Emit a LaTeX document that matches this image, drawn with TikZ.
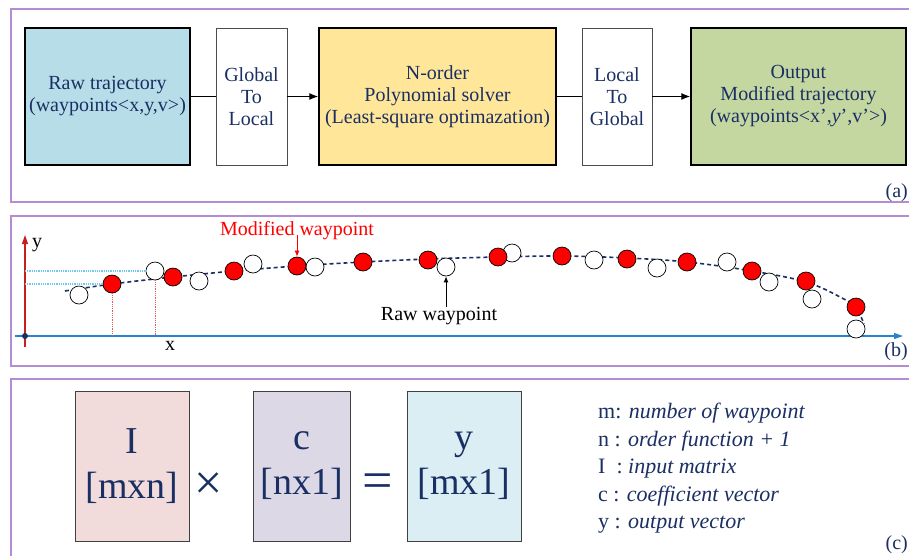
\documentclass[tikz,border=0pt]{standalone}
\usepackage{fontspec}
\setmainfont{Liberation Serif}
\usetikzlibrary{arrows.meta}
\definecolor{navy}{RGB}{26,47,99}
\definecolor{framepurple}{RGB}{180,140,212}
\definecolor{rawblue}{RGB}{183,222,232}
\definecolor{solveryellow}{RGB}{255,230,153}
\definecolor{outgreen}{RGB}{196,215,160}
\definecolor{matpink}{RGB}{242,220,219}
\definecolor{matlav}{RGB}{221,216,230}
\definecolor{matcyan}{RGB}{218,238,243}
\definecolor{yred}{RGB}{200,30,30}
\definecolor{xblue}{RGB}{40,130,205}
\definecolor{guidecyan}{RGB}{110,200,240}
\definecolor{guidered}{RGB}{230,90,90}
\begin{document}
\begin{tikzpicture}[x=1pt,y=-1pt,
  frame/.style={draw=framepurple, line width=1.2pt},
  txt/.style={font=\fontsize{20}{22}\selectfont, text=navy},
  blockbox/.style={txt, draw=black, line width=1.4pt, align=center, minimum height=137, inner sep=0},
  convbox/.style={txt, draw=black!70, line width=0.6pt, fill=white, align=center, minimum height=137, inner sep=0},
  flow/.style={line width=1.3pt},
  flowarrow/.style={line width=1.3pt, -{Latex[length=9,width=7]}},
  rdot/.style={circle, draw=black, line width=0.7pt, fill=red, minimum size=18, inner sep=0},
  wdot/.style={circle, draw=black, line width=0.7pt, fill=white, minimum size=18, inner sep=0},
  matbox/.style={draw=black!75, line width=0.8pt, font=\fontsize{38}{45}\selectfont, text=navy, align=center, minimum height=150, inner sep=0},
  legend/.style={font=\fontsize{22}{27}\selectfont, text=navy, anchor=base west, inner sep=0},
  panel/.style={txt, anchor=base east, inner sep=0}
]
\useasboundingbox (0,0) rectangle (909,555);
\clip (0,0) rectangle (909,555);
\fill[white] (0,0) rectangle (909,555);

% ---------- panel (a)
\draw[frame] (11,9) rectangle (930,202);
\node[blockbox, fill=rawblue, minimum width=165] (raw) at (107.5,96.5) {Raw trajectory\\(waypoints<x,y,v>)};
\node[convbox, minimum width=71] (g2l) at (251.5,96.5) {Global\\To\\Local};
\node[blockbox, fill=solveryellow, minimum width=237] (solver) at (437.5,96.5) {N-order\\Polynomial solver\\(Least-square optimazation)};
\node[convbox, minimum width=70] (l2g) at (617,96.5) {Local\\To\\Global};
\node[blockbox, fill=outgreen, minimum width=215] (out) at (798.5,96.5) {Output\\Modified trajectory\\(waypoints<x',\textit{y}',v'>)};
\draw[flow] (raw) -- (g2l);
\draw[flowarrow] (g2l) -- (solver);
\draw[flow] (solver) -- (l2g);
\draw[flowarrow] (l2g) -- (out);
\node[panel] (lbla) at (908,197) {(a)};

% ---------- panel (b)
\draw[frame] (11,216) rectangle (930,366);
\coordinate (ybot) at (25,347);
\coordinate (ytop) at (25,235);
\coordinate (xleft) at (15,336);
\coordinate (xright) at (903,336);
\coordinate (origin) at (25,336);
\draw[xblue, line width=1.2pt, -{Triangle[length=9,width=6]}] (xleft) -- (xright);
\draw[yred, line width=1.2pt, -{Triangle[length=9,width=6]}] (ybot) -- (ytop);
\fill[navy] (origin) circle (3);
\node[txt, text=black] (ylbl) at (37,245) {y};
\node[txt, text=black] (xlbl) at (170,346) {x};

\draw[navy, line width=1.6pt, dash pattern=on 4pt off 3pt]
  plot[smooth, tension=0.6] coordinates {(65,291) (112,284) (173,277) (234,271) (297,266) (363,262) (428,259) (498,257) (562,256) (627,258) (687,262) (752,271) (806,282) (842,298) (856,308) (864,324)};

% raw waypoints
\node[wdot] (w1) at (79,295) {};
\node[wdot] (w2) at (155,271) {};
\node[wdot] (w3) at (199,281) {};
\node[wdot] (w4) at (253,264) {};
\node[wdot] (w5) at (315,267) {};
\node[wdot] (w6) at (446,267) {};
\node[wdot] (w7) at (512,253) {};
\node[wdot] (w8) at (594,260) {};
\node[wdot] (w9) at (657,268) {};
\node[wdot] (w10) at (727,262) {};
\node[wdot] (w11) at (769,282) {};
\node[wdot] (w12) at (812,299) {};
\node[wdot] (w13) at (856,329) {};
% modified waypoints
\node[rdot] (r1) at (112,284) {};
\node[rdot] (r2) at (173,277) {};
\node[rdot] (r3) at (234,271) {};
\node[rdot] (r4) at (297,266) {};
\node[rdot] (r5) at (363,262) {};
\node[rdot] (r6) at (428,260) {};
\node[rdot] (r7) at (498,257) {};
\node[rdot] (r8) at (562,256) {};
\node[rdot] (r9) at (627,259) {};
\node[rdot] (r10) at (687,262) {};
\node[rdot] (r11) at (752,271) {};
\node[rdot] (r12) at (806,281) {};
\node[rdot] (r13) at (856,307) {};

% guide lines
\draw[guidecyan, line width=1.5pt, dash pattern=on 1pt off 0.8pt] (ytop |- w2.center) -- (w2.west);
\draw[guidecyan, line width=1.5pt, dash pattern=on 1pt off 0.8pt] (ytop |- r1.center) -- (r1.west);
\draw[guidered, line width=0.9pt, dash pattern=on 1pt off 0.8pt] (r1.south) -- (r1.south |- xleft);
\draw[guidered, line width=0.9pt, dash pattern=on 1pt off 0.8pt] (w2.south) -- (w2.south |- xleft);

\node[txt, text=red, anchor=base, inner sep=0] (modlbl) at (297,235) {Modified waypoint};
\draw[red, line width=0.9pt, -{Latex[length=6,width=5]}] (r4.north |- modlbl.base) -- (r4.north);
\node[txt, text=black, anchor=base, inner sep=0] (rawlbl) at (439,320) {Raw waypoint};
\draw[black, line width=0.9pt, -{Latex[length=6,width=5]}] (w6.south |- rawlbl.north) -- (w6.south);
\node[panel] (lblb) at (908,356) {(b)};

% ---------- panel (c)
\draw[frame] (11,379) rectangle (930,580);
\node[matbox, fill=matpink, minimum width=114] (imat) at (132,466) {I\\{[}mxn{]}};
\node[matbox, fill=matlav, minimum width=97] (cvec) at (301.5,466) {c\\{[}nx1{]}};
\node[matbox, fill=matcyan, minimum width=114] (yvec) at (464,466) {y\\{[}mx1{]}};
\node[text=navy, font=\fontsize{50}{50}\selectfont, inner sep=0] (times) at (209,486) {×};
\node[text=navy, font=\fontsize{54}{54}\selectfont, inner sep=0] (eq) at (378,486) {=};
\node[legend] (lg1) at (598,418) {m: \textit{number of waypoint}};
\node[legend] (lg2) at (598,446) {n : \textit{order function + 1}};
\node[legend] (lg3) at (598,473) {I\ \ : \textit{input matrix}};
\node[legend] (lg4) at (598,501) {c : \textit{coefficient vector}};
\node[legend] (lg5) at (598,528) {y : \textit{output vector}};
\node[panel] (lblc) at (908,549) {(c)};
\end{tikzpicture}
\end{document}
